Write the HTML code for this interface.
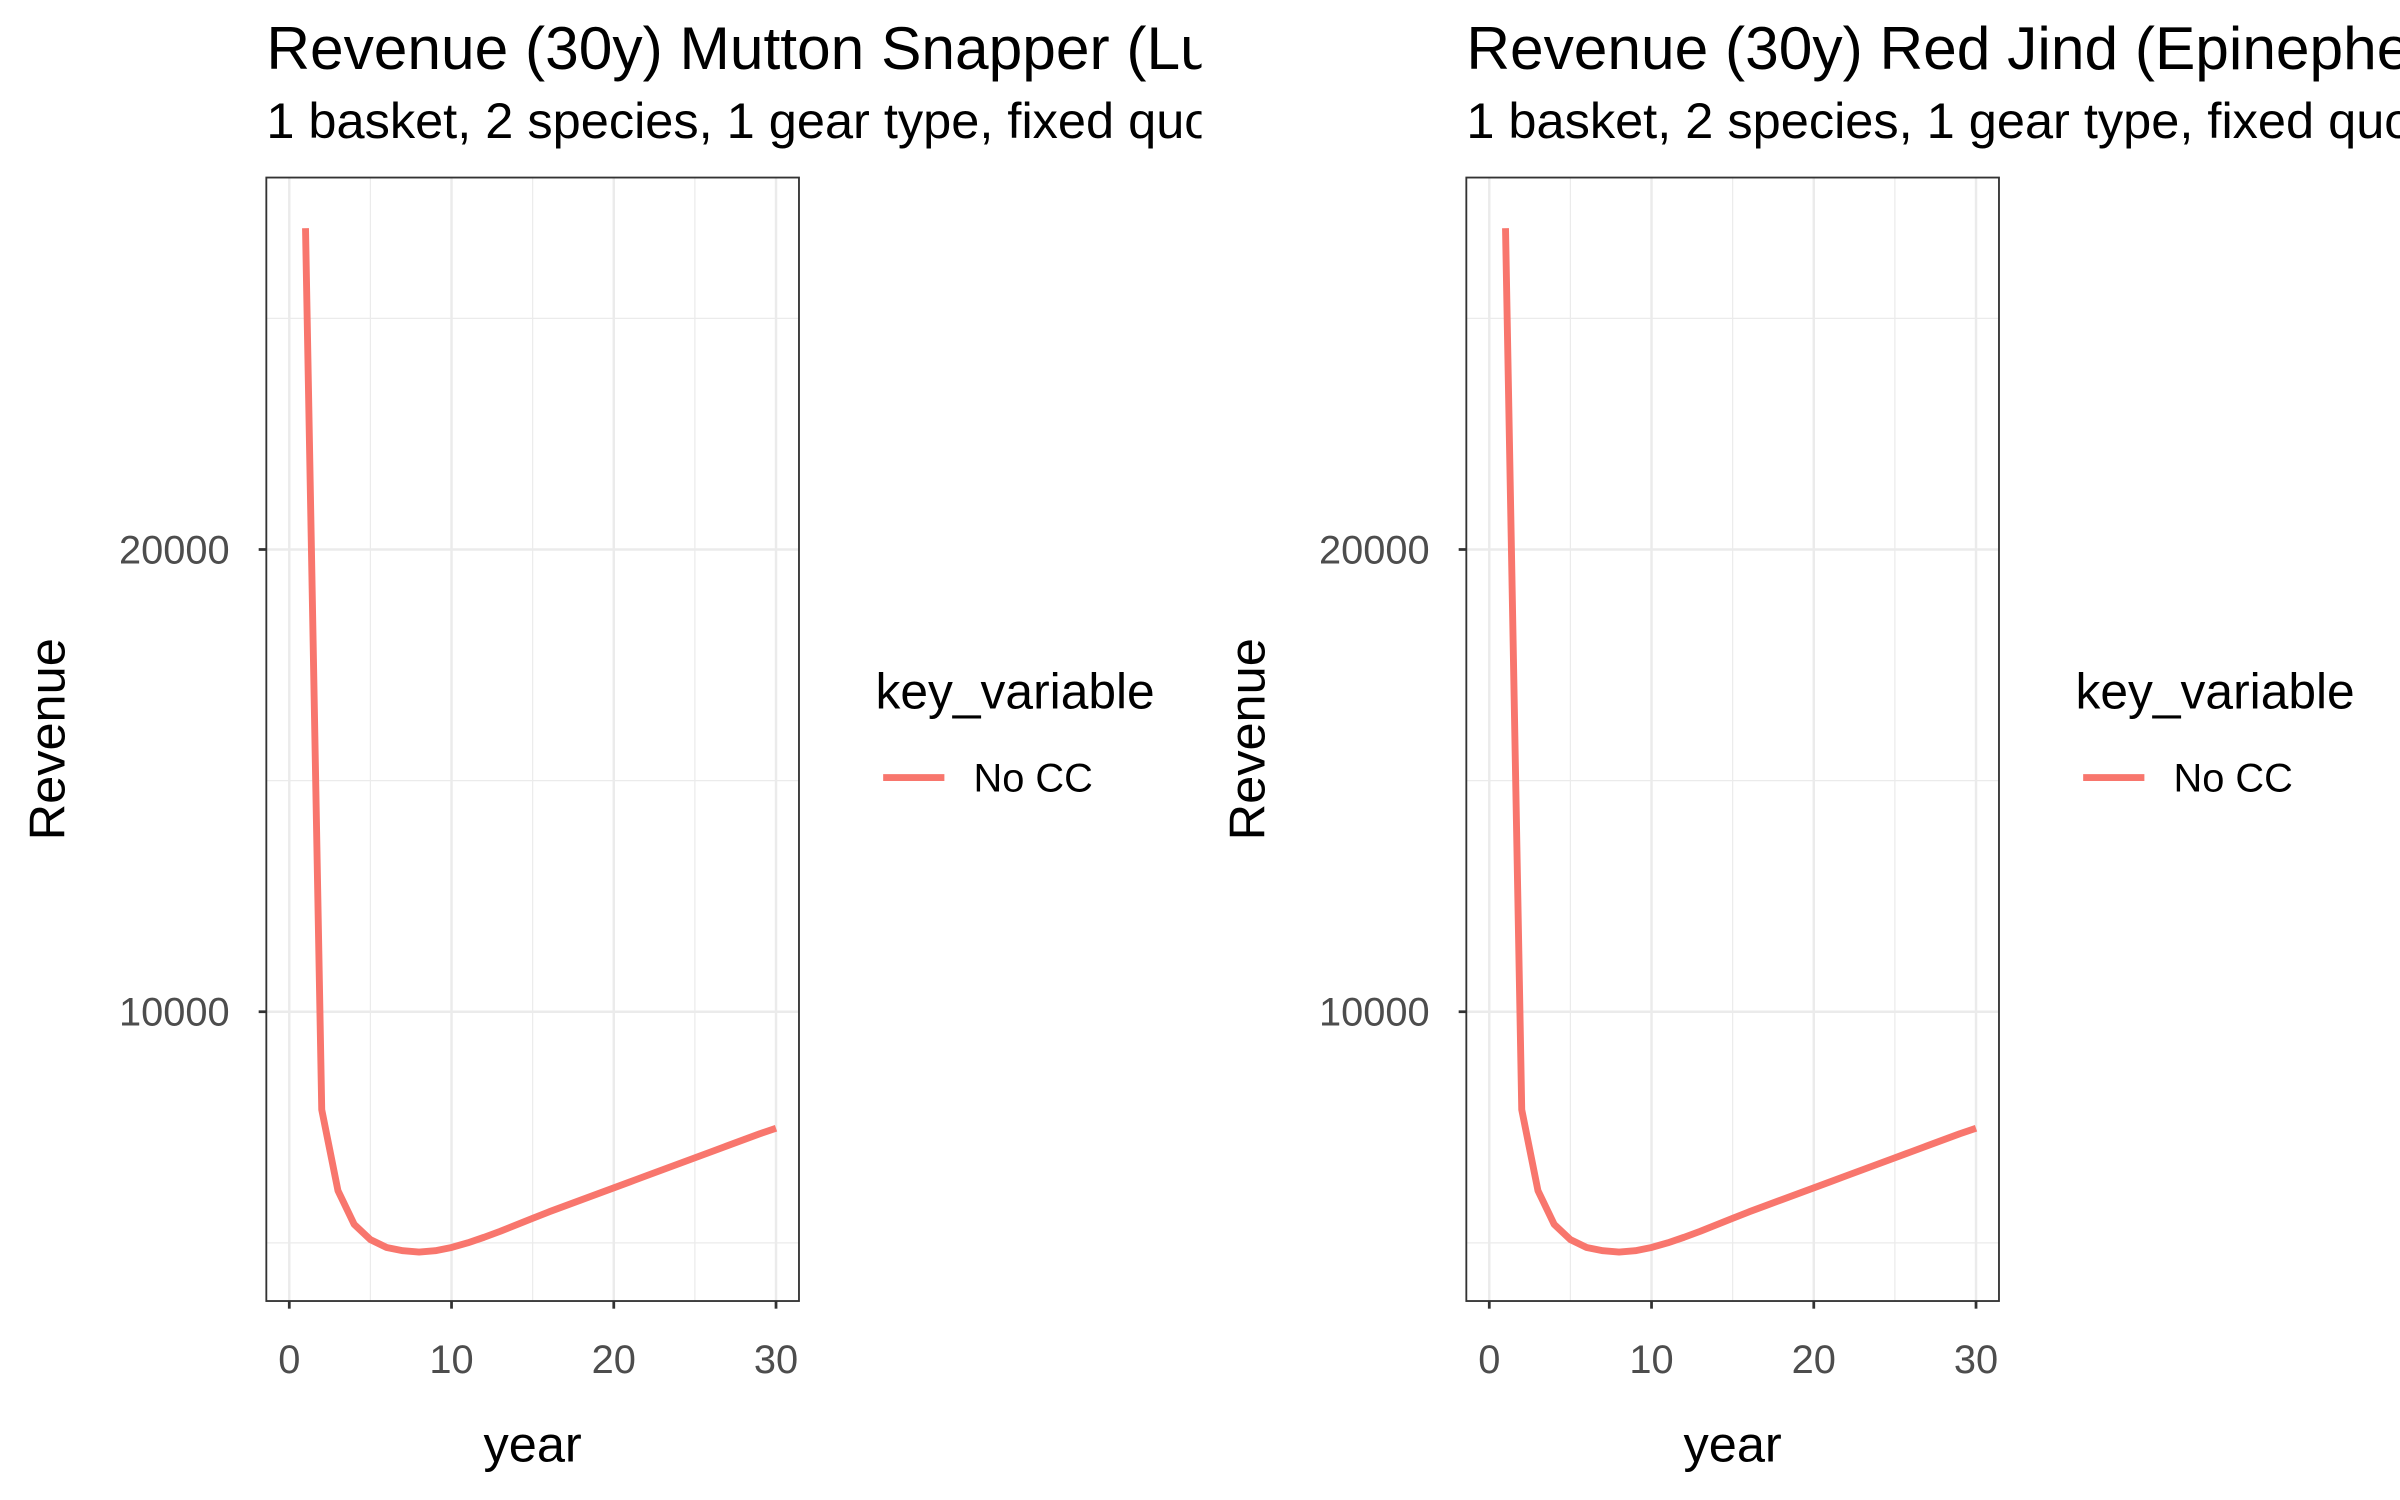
<!DOCTYPE html>
<html><head><meta charset="utf-8"><style>html,body{margin:0;padding:0;background:#fff}svg{display:block}text{font-family:"Liberation Sans",Arial,sans-serif}</style></head>
<body>
<svg id="c" width="2400" height="1500" viewBox="0 0 1568 980" xmlns="http://www.w3.org/2000/svg">
<defs>
<clipPath id="clipL"><rect x="0" y="0" width="785" height="980"/></clipPath>
<clipPath id="clipR"><rect x="785" y="0" width="783" height="980"/></clipPath>
</defs>
</svg>
<script>
const years = [1,2,3,4,5,6,7,8,9,10,11,12,13,14,15,16,17,18,19,20,21,22,23,24,25,26,27,28,29,30];
const revenueMutton = [26950,7880,6130,5400,5070,4900,4830,4800,4830,4900,5000,5120,5250,5390,5530,5670,5800,5930,6060,6190,6320,6450,6580,6710,6840,6970,7100,7230,7360,7480];
const revenueJind = [26950,7880,6130,5400,5070,4900,4830,4800,4830,4900,5000,5120,5250,5390,5530,5670,5800,5930,6060,6190,6320,6450,6580,6710,6840,6970,7100,7230,7360,7480];
const xTicks = [0,10,20,30];
const xMinor = [5,15,25];
const yTicks = [10000,20000];
const yMinor = [5000,15000,25000];
const panelTitles = ["Revenue (30y) Mutton Snapper (Lutjanus analis)","Revenue (30y) Red Jind (Epinephelus adscensionis)"];
const subtitle = "1 basket, 2 species, 1 gear type, fixed quota";
const NS="http://www.w3.org/2000/svg";
const svg=document.getElementById('c');
function mk(tag,attrs,parent){const e=document.createElementNS(NS,tag);for(const k in attrs)e.setAttribute(k,attrs[k]);parent.appendChild(e);return e;}
function panel(ox,series,title,clip,idx){
  const g=mk('g',{'clip-path':'url(#'+clip+')'},svg);
  
  
  const L=ox+174,R=ox+522,T=116,B=850;
  const sx=v=>ox+189+(v-0)*(318/30);
  const sy=v=>661-(v-10000)*(302/10000);
  const t=mk('text',{x:ox+174,y:45,'font-size':39.5,fill:'#000'},g);t.textContent=title;
  
  const st=mk('text',{x:ox+174,y:90,'font-size':33,fill:'#000'},g);st.textContent=subtitle;
  
  yMinor.forEach(v=>{const l=mk('line',{x1:L,x2:R,y1:sy(v),y2:sy(v),stroke:'#ebebeb','stroke-width':0.8},g);});
  xMinor.forEach(v=>{const l=mk('line',{x1:sx(v),x2:sx(v),y1:T,y2:B,stroke:'#ebebeb','stroke-width':0.8},g);});
  yTicks.forEach(v=>{const l=mk('line',{x1:L,x2:R,y1:sy(v),y2:sy(v),stroke:'#ebebeb','stroke-width':1.6},g);
    const tk=mk('line',{x1:L-5,x2:L,y1:sy(v),y2:sy(v),stroke:'#333','stroke-width':1.8},g);
    const tl=mk('text',{x:L-24,y:sy(v)+9,'font-size':26,fill:'#4d4d4d','text-anchor':'end'},g);tl.textContent=v;});
  xTicks.forEach(v=>{const l=mk('line',{x1:sx(v),x2:sx(v),y1:T,y2:B,stroke:'#ebebeb','stroke-width':1.6},g);
    const tk=mk('line',{x1:sx(v),x2:sx(v),y1:B,y2:B+5,stroke:'#333','stroke-width':1.8},g);
    const tl=mk('text',{x:sx(v),y:B+47,'font-size':26,fill:'#4d4d4d','text-anchor':'middle'},g);tl.textContent=v;});
  const d=years.map((y,i)=>(i?'L':'M')+sx(y).toFixed(2)+' '+sy(series[i]).toFixed(2)).join(' ');
  const p=mk('path',{d:d,fill:'none',stroke:'#F8766D','stroke-width':4.5,'stroke-linejoin':'round'},g);
  
  const fr=mk('rect',{x:L,y:T,width:R-L,height:B-T,fill:'none',stroke:'#333','stroke-width':1.2},g);
  
  const yl=mk('text',{x:0,y:0,'font-size':33,fill:'#000','text-anchor':'middle',transform:'translate('+(ox+42)+',483) rotate(-90)'},g);yl.textContent='Revenue';
  
  const xl=mk('text',{x:ox+348,y:955,'font-size':33,fill:'#000','text-anchor':'middle'},g);xl.textContent='year';
  
  const lt=mk('text',{x:ox+572,y:463,'font-size':32.5,fill:'#000'},g);lt.textContent='key_variable';
  
  const ll=mk('line',{x1:ox+577,x2:ox+617,y1:508,y2:508,stroke:'#F8766D','stroke-width':4.5},g);
  
  const lx=mk('text',{x:ox+636,y:517,'font-size':26,fill:'#000'},g);lx.textContent='No CC';
  
}
panel(0,revenueMutton,panelTitles[0],'clipL',1);
panel(784,revenueJind,panelTitles[1],'clipR',2);
</script>
</body></html>
